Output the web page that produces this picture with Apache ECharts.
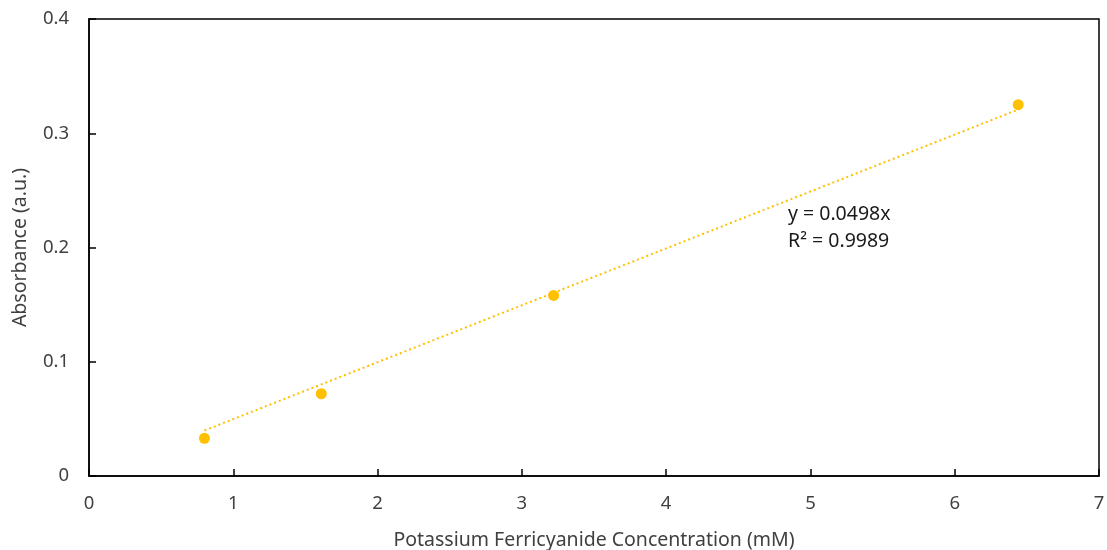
<!DOCTYPE html>
<html>
<head>
<meta charset="utf-8">
<script src="https://cdn.jsdelivr.net/npm/echarts@6/dist/echarts.min.js"></script>
<style>
  html, body { margin: 0; padding: 0; background: #fff; }
  #main { width: 1107px; height: 550px; }
</style>
</head>
<body>
<div id="main"></div>
<script>
  // measured points
  var concentration = [0.80, 1.61, 3.22, 6.44];
  var absorbance = [0.033, 0.072, 0.158, 0.325];

  // linear trendline through origin (from the chart label)
  var slope = 0.0498;
  var trendRange = [0.80, 6.44];
  var trendLabel = ['y = 0.0498x', 'R² = 0.9989'];

  var pts = concentration.map(function (x, i) { return [x, absorbance[i]]; });
  var trend = trendRange.map(function (x) { return [x, slope * x]; });

  var font = '"Noto Sans", "Open Sans", sans-serif';
  var textColor = '#404040';

  var chart = echarts.init(document.getElementById('main'));
  chart.setOption({
    animation: false,
    grid: {
      left: 89, right: 8, top: 19, bottom: 74,
      outerBoundsMode: 'none', containLabel: false,
      show: true, borderColor: '#000', borderWidth: 1.5
    },
    xAxis: {
      type: 'value', min: 0, max: 7, interval: 1,
      name: 'Potassium Ferricyanide Concentration (mM)',
      nameLocation: 'middle', nameGap: 54,
      nameTextStyle: { fontFamily: font, fontSize: 19.5, color: textColor },
      axisLine: { lineStyle: { color: '#000', width: 1.5 } },
      axisTick: { inside: true, length: 7, lineStyle: { color: '#000', width: 1.5 } },
      axisLabel: { fontFamily: font, fontSize: 18.5, color: textColor, margin: 18 },
      splitLine: { show: false }
    },
    yAxis: {
      type: 'value', min: 0, max: 0.4, interval: 0.1,
      name: 'Absorbance (a.u.)',
      nameLocation: 'middle', nameGap: 59,
      nameTextStyle: { fontFamily: font, fontSize: 19.5, color: textColor },
      axisLine: { show: true, lineStyle: { color: '#000', width: 1.5 } },
      axisTick: { show: true, inside: true, length: 7, lineStyle: { color: '#000', width: 1.5 } },
      axisLabel: { fontFamily: font, fontSize: 18.5, color: textColor, margin: 20 },
      splitLine: { show: false }
    },
    series: [
      {
        type: 'line',
        data: trend,
        symbol: 'none',
        lineStyle: { color: '#FFC000', width: 2, type: [2, 3] },
        z: 1
      },
      {
        type: 'scatter',
        data: pts,
        symbolSize: 11,
        itemStyle: { color: '#FFC000', opacity: 1 },
        z: 2
      }
    ],
    graphic: [{
      type: 'text',
      left: 788, top: 201,
      style: {
        text: trendLabel.join('\n'),
        fontFamily: font, fontSize: 19.5, lineHeight: 27,
        fill: '#1a1a1a'
      }
    }]
  });
</script>
</body>
</html>
